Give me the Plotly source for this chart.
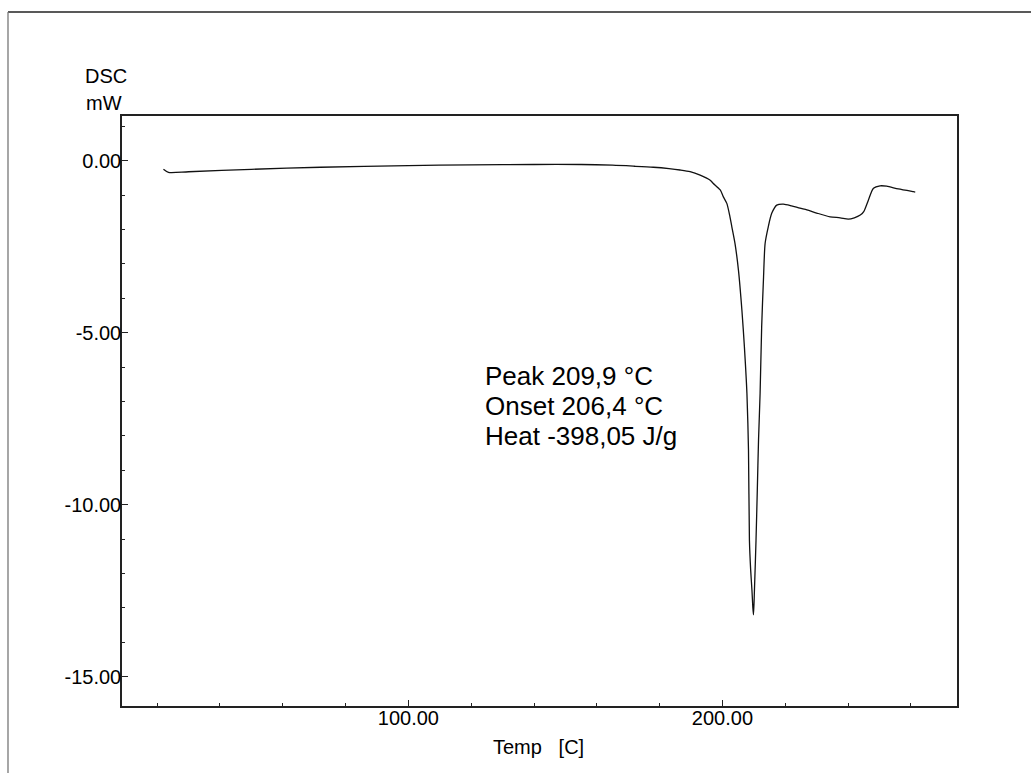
import plotly.graph_objects as go

# DSC curve
temp_c = [22.0, 23.6, 30.0, 50.0, 72.0, 100.0, 120.0, 140.0, 155.0, 165.0, 172.0, 178.0,
          183.0, 186.5, 189.7, 192.9, 196.0, 197.1, 199.3, 200.3, 201.4, 202.4, 203.0,
          204.0, 205.1, 206.2, 207.0, 207.8, 208.3, 208.6, 209.0, 209.4, 209.7, 209.9,
          210.2, 210.7, 211.1, 211.5, 212.0, 212.5, 213.1, 213.6, 214.6, 215.7, 217.3,
          219.4, 222.0, 224.7, 226.9, 230.0, 234.3, 237.5, 240.1, 242.0, 243.9, 245.0,
          246.5, 248.1, 250.2, 252.3, 256.0, 260.8, 261.4]
dsc_mw = [-0.25, -0.34, -0.32, -0.25, -0.19, -0.14, -0.12, -0.11, -0.11, -0.13, -0.16, -0.19,
          -0.23, -0.27, -0.32, -0.42, -0.56, -0.66, -0.85, -1.05, -1.24, -1.63, -1.92,
          -2.40, -3.18, -4.34, -5.41, -6.76, -8.41, -11.03, -11.9, -12.48, -13.0, -13.2,
          -12.48, -11.03, -9.6, -8.12, -6.76, -4.83, -3.37, -2.40, -1.92, -1.53, -1.29,
          -1.26, -1.31, -1.38, -1.43, -1.52, -1.63, -1.66, -1.70, -1.66, -1.58, -1.48,
          -1.14, -0.80, -0.73, -0.74, -0.82, -0.90, -0.91]

y_tick_vals = [0, -5, -10, -15]
y_tick_text = ["0.00", "-5.00", "-10.00", "-15.00"]
x_tick_vals = [100, 200]
x_tick_text = ["100.00", "200.00"]

result_lines = ["Peak 209,9 °C", "Onset 206,4 °C", "Heat -398,05 J/g"]

FONT = "Liberation Sans, Arial, sans-serif"
W, H = 1035, 773
L, R, T, B = 122, 957, 116, 706


def px(xp):
    return (xp - L) / (R - L)


def py(yp):
    return (B - yp) / (B - T)


fig = go.Figure()
fig.add_trace(go.Scatter(x=temp_c, y=dsc_mw, mode="lines",
                         line=dict(color="#111111", width=1.3, shape="spline", smoothing=0.7),
                         showlegend=False, hoverinfo="skip"))

axis_common = dict(showline=True, linecolor="#222222", linewidth=1.5, mirror=True,
                   showgrid=False, zeroline=False, ticks="inside", ticklen=6,
                   tickcolor="#222222", tickwidth=1,
                   tickfont=dict(family=FONT, size=20, color="#000000"))

fig.update_xaxes(range=[8.8, 274.7], tickmode="array", tickvals=x_tick_vals,
                 ticktext=x_tick_text, ticklabelstandoff=-7,
                 minor=dict(tickmode="linear", tick0=0, dtick=20, ticks="inside",
                            ticklen=3, tickcolor="#222222", tickwidth=1),
                 **axis_common)
fig.update_yaxes(range=[-15.85, 1.3], tickmode="array", tickvals=y_tick_vals,
                 ticktext=y_tick_text, ticklabelstandoff=-5,
                 minor=dict(tickmode="linear", tick0=0, dtick=1, ticks="inside",
                            ticklen=3, tickcolor="#222222", tickwidth=1),
                 **axis_common)

annotations = []
# y-axis label
annotations.append(dict(x=px(83), y=py(76), xref="paper", yref="paper", text="DSC",
                        showarrow=False, xanchor="left", yanchor="middle",
                        font=dict(family=FONT, size=20, color="#000")))
annotations.append(dict(x=px(84), y=py(103), xref="paper", yref="paper", text="mW",
                        showarrow=False, xanchor="left", yanchor="middle",
                        font=dict(family=FONT, size=20, color="#000")))
# x-axis label
annotations.append(dict(x=px(538), y=py(747), xref="paper", yref="paper",
                        text="Temp\u00a0\u00a0\u00a0[C]", showarrow=False,
                        xanchor="center", yanchor="middle",
                        font=dict(family=FONT, size=20, color="#000")))
# result text
for i, line in enumerate(result_lines):
    annotations.append(dict(x=px(483), y=py(376 + 30 * i), xref="paper", yref="paper",
                            text=line, showarrow=False, xanchor="left", yanchor="middle",
                            font=dict(family=FONT, size=26, color="#000")))

shapes = [
    dict(type="line", xref="paper", yref="paper", x0=px(8), x1=px(1031), y0=py(12), y1=py(12),
         line=dict(color="#222222", width=1.3)),
    dict(type="line", xref="paper", yref="paper", x0=px(8), x1=px(8), y0=py(12), y1=py(775),
         line=dict(color="#777777", width=1.3)),
]

fig.update_layout(width=W, height=H, margin=dict(l=L, r=W - R, t=T, b=H - B),
                  paper_bgcolor="white", plot_bgcolor="white",
                  annotations=annotations, shapes=shapes,
                  font=dict(family=FONT, size=20, color="#000"))

fig.write_html("out.html")
